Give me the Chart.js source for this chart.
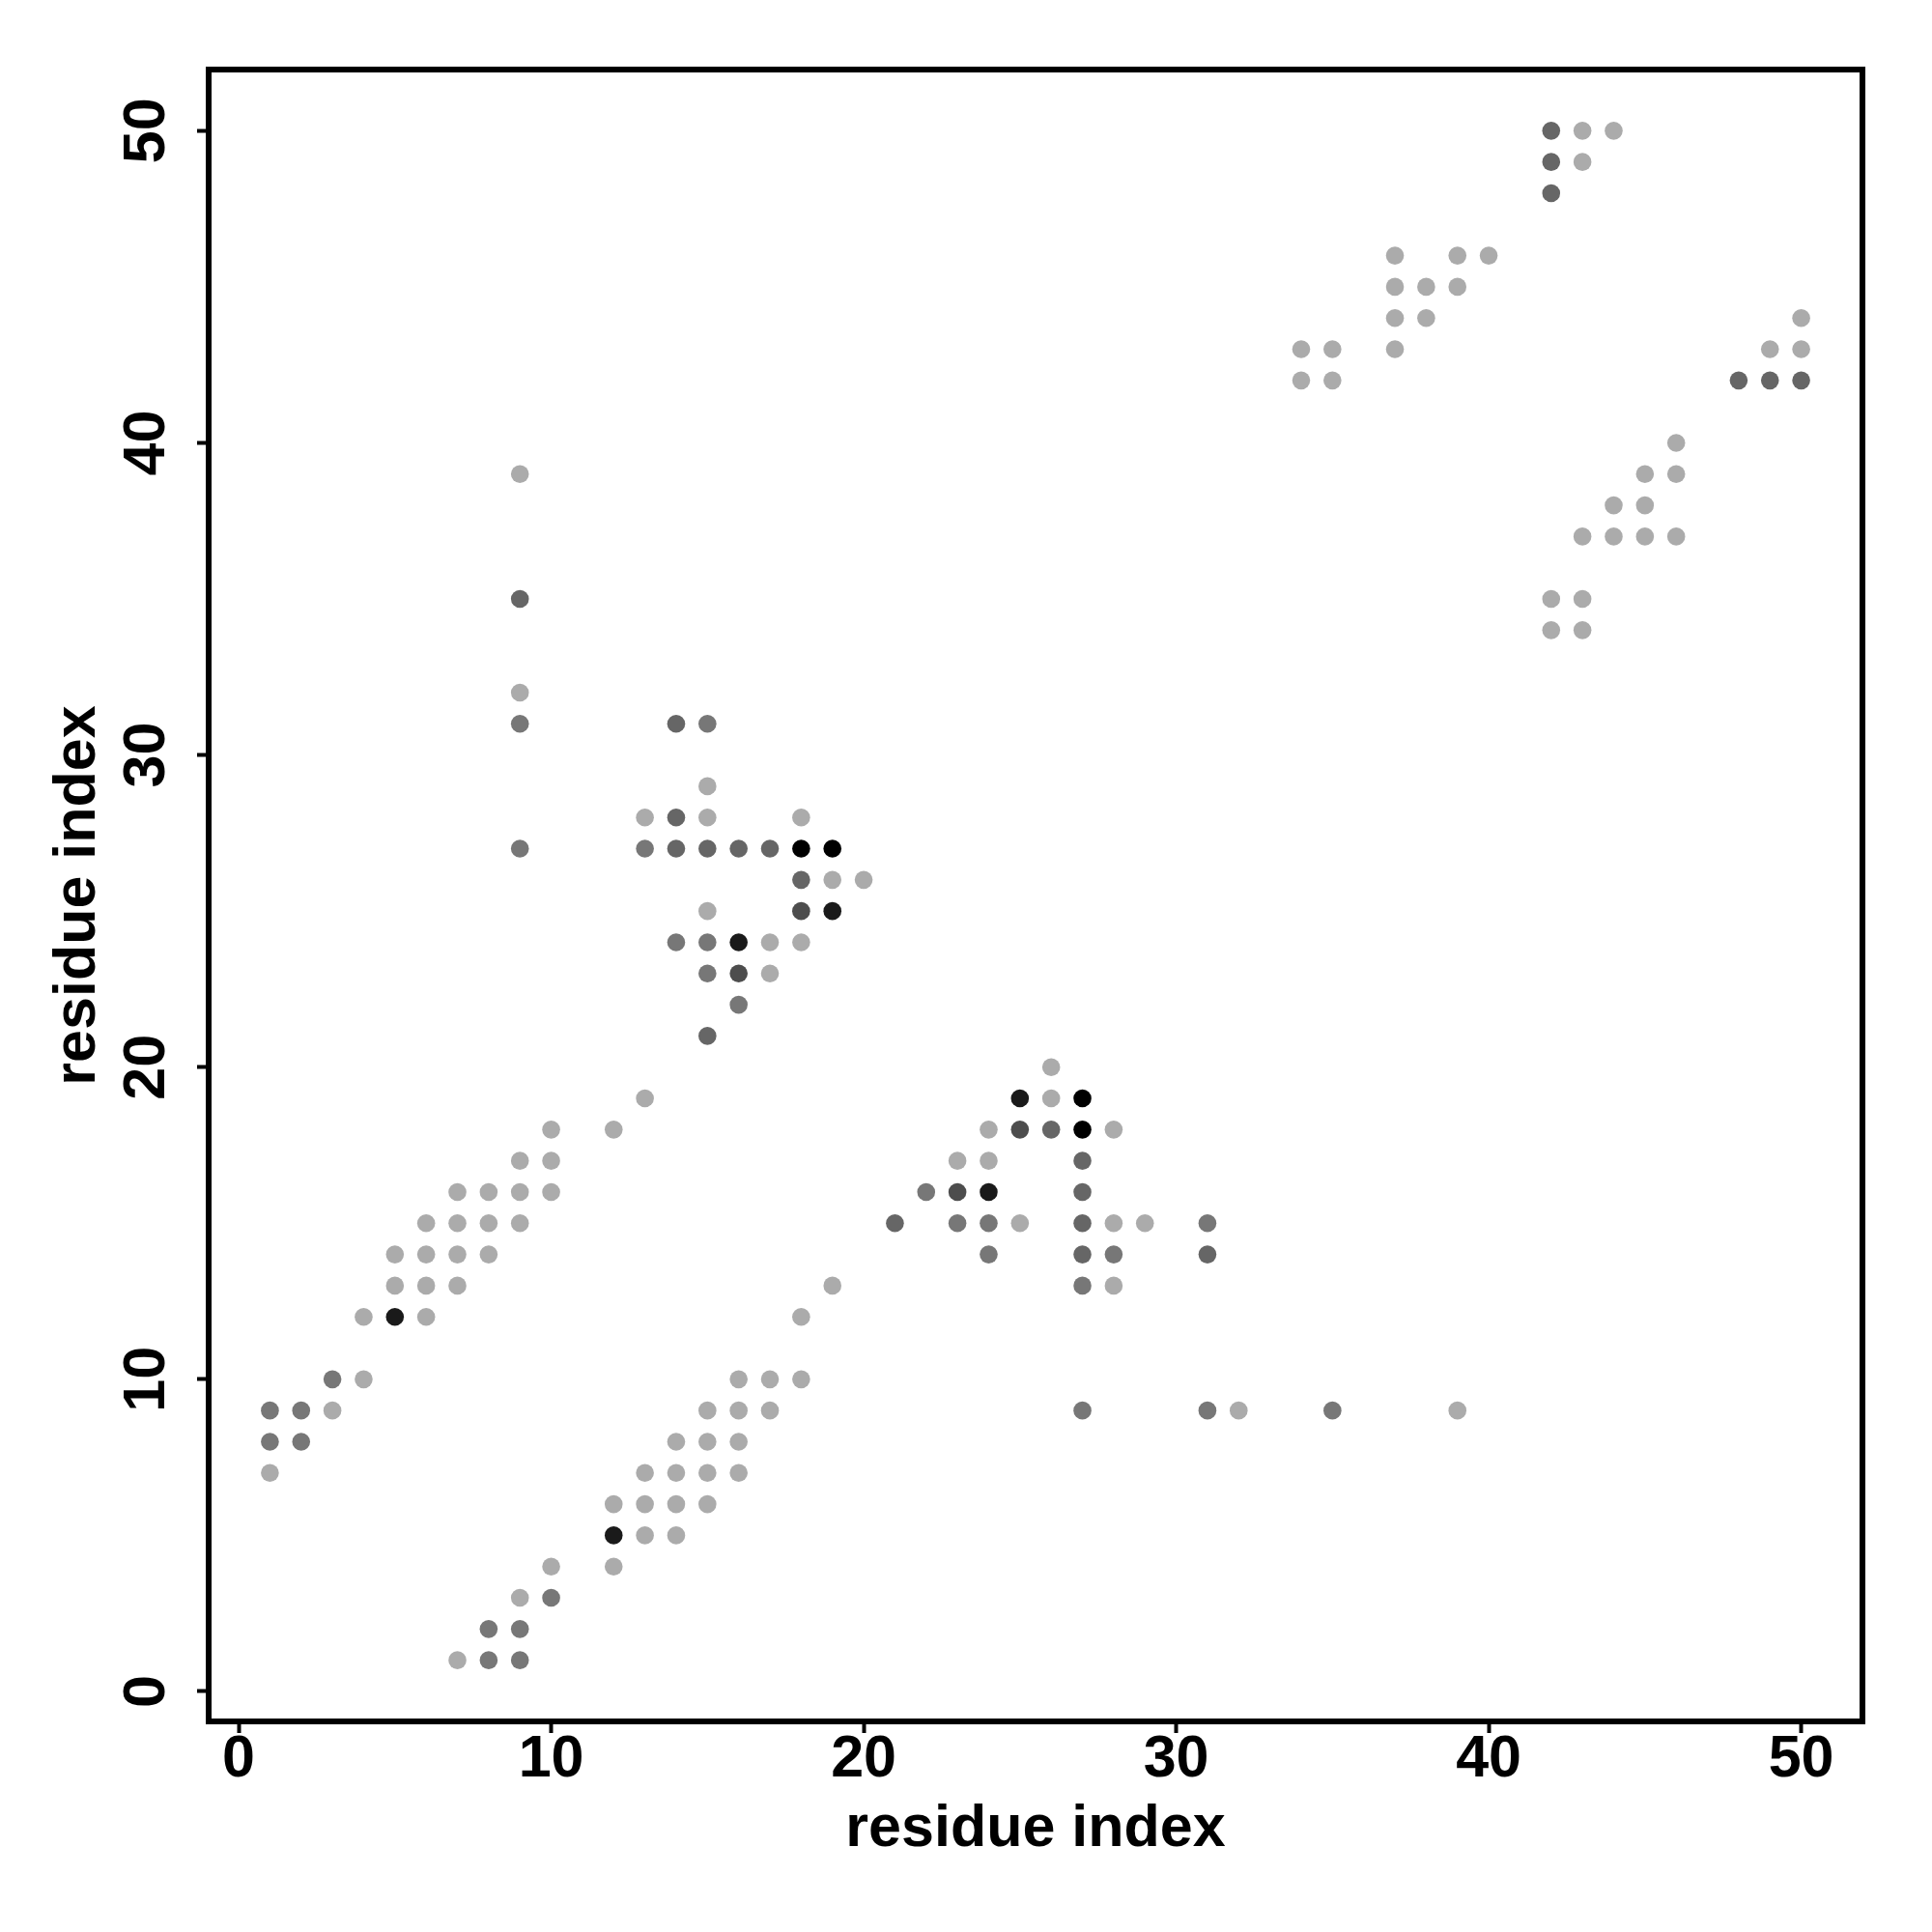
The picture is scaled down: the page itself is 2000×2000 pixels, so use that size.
<!DOCTYPE html>
<html>
<head>
<meta charset="utf-8">
<script src="https://cdn.jsdelivr.net/npm/chart.js@4.4.0/dist/chart.umd.min.js"></script>
<style>
  body { margin: 0; background: #fff; }
</style>
</head>
<body>
<canvas id="contactMap" width="2000" height="2000"></canvas>
<script>
// contact map: residue pairs (x, y) and contact level (1 = weak .. 6 = strongest)
const resX = [
  1, 1, 1, 2, 2, 3, 3, 4, 4, 5, 5, 5, 6, 6, 6, 6, 7, 7, 7, 7, 8, 8, 8, 9, 9, 9, 10, 10, 10, 12, 13,
  9, 9, 9, 9, 9,
  13, 13, 14, 14, 14, 14, 15, 15, 15, 15, 15, 15, 15, 15, 16, 16, 16, 16, 17, 17, 17, 18, 18, 18, 18, 18, 19, 19, 19, 20,
  7, 8, 8, 9, 9, 9, 10, 10, 12, 12, 12, 13, 13, 13, 14, 14, 14, 14, 15, 15, 15, 15, 16, 16, 16, 16, 17, 17, 18, 18, 19,
  21, 22, 23, 23, 23, 24, 24, 24, 24, 24, 25, 25, 25, 26, 26, 26, 27, 27, 27, 27, 27, 27, 27, 27, 28, 28, 28, 28, 29, 31, 31, 31, 32, 35, 39,
  34, 34, 35, 35, 37, 37, 37, 37, 38, 38, 39, 39, 40, 42, 42, 42, 43, 43, 44,
  42, 42, 43, 43, 43, 44, 44, 45, 45, 45, 46, 46, 46, 48, 49, 49, 50, 50, 50
];
const resY = [
  7, 8, 9, 8, 9, 9, 10, 10, 12, 12, 13, 14, 12, 13, 14, 15, 13, 14, 15, 16, 14, 15, 16, 15, 16, 17, 16, 17, 18, 18, 19,
  27, 31, 32, 35, 39,
  27, 28, 24, 27, 28, 31, 21, 23, 24, 25, 27, 28, 29, 31, 22, 23, 24, 27, 23, 24, 27, 24, 25, 26, 27, 28, 25, 26, 27, 26,
  1, 1, 2, 1, 2, 3, 3, 4, 4, 5, 6, 5, 6, 7, 5, 6, 7, 8, 6, 7, 8, 9, 7, 8, 9, 10, 9, 10, 10, 12, 13,
  15, 16, 15, 16, 17, 14, 15, 16, 17, 18, 15, 18, 19, 18, 19, 20, 9, 13, 14, 15, 16, 17, 18, 19, 13, 14, 15, 18, 15, 9, 14, 15, 9, 9, 9,
  42, 43, 42, 43, 43, 44, 45, 46, 44, 45, 45, 46, 46, 48, 49, 50, 49, 50, 50,
  34, 35, 34, 35, 37, 37, 38, 37, 38, 39, 37, 39, 40, 42, 42, 43, 42, 43, 44
];
const contactLevel = [
  1, 2, 2, 2, 2, 1, 2, 1, 1, 5, 1, 1, 1, 1, 1, 1, 1, 1, 1, 1, 1, 1, 1, 1, 1, 1, 1, 1, 1, 1, 1,
  2, 2, 1, 3, 1,
  2, 1, 2, 3, 3, 3, 3, 2, 2, 1, 3, 1, 1, 2, 2, 4, 5, 3, 1, 1, 3, 1, 4, 3, 6, 1, 5, 1, 6, 1,
  1, 2, 2, 2, 2, 1, 2, 1, 1, 5, 1, 1, 1, 1, 1, 1, 1, 1, 1, 1, 1, 1, 1, 1, 1, 1, 1, 1, 1, 1, 1,
  3, 2, 2, 4, 1, 2, 2, 5, 1, 1, 1, 4, 5, 3, 1, 1, 2, 2, 3, 3, 3, 3, 6, 6, 1, 2, 1, 1, 1, 2, 3, 2, 1, 2, 1,
  1, 1, 1, 1, 1, 1, 1, 1, 1, 1, 1, 1, 1, 3, 3, 3, 1, 1, 1,
  1, 1, 1, 1, 1, 1, 1, 1, 1, 1, 1, 1, 1, 3, 3, 1, 3, 1, 1
];
const tickValues = [0, 10, 20, 30, 40, 50];
const axisLabel = 'residue index';

const levelColors = { 1: '#ababab', 2: '#777777', 3: '#666666', 4: '#4d4d4d', 5: '#1a1a1a', 6: '#000000' };
const fontFamily = '"Liberation Sans", Arial, Helvetica, sans-serif';

const points = resX.map((x, i) => ({ x: x, y: resY[i] }));

// box round the plot + tick labels (y labels vertical, R style)
const framePlugin = {
  id: 'frame',
  afterDraw(chart) {
    const ctx = chart.ctx;
    const a = chart.chartArea;
    ctx.save();
    ctx.strokeStyle = '#000';
    ctx.lineWidth = 6;
    ctx.strokeRect(a.left, a.top, a.right - a.left, a.bottom - a.top);
    ctx.fillStyle = '#000';
    ctx.font = 'bold 61px ' + fontFamily;
    ctx.textAlign = 'center';
    ctx.textBaseline = 'alphabetic';
    const xs = chart.scales.x;
    const ys = chart.scales.y;
    tickValues.forEach(v => {
      ctx.fillText(String(v), xs.getPixelForValue(v), 1839);
      ctx.save();
      ctx.translate(170, ys.getPixelForValue(v));
      ctx.rotate(-Math.PI / 2);
      ctx.fillText(String(v), 0, 0);
      ctx.restore();
    });
    ctx.restore();
  }
};

new Chart(document.getElementById('contactMap').getContext('2d'), {
  type: 'scatter',
  data: {
    datasets: [{
      data: points,
      backgroundColor: contactLevel.map(l => levelColors[l]),
      borderWidth: 0,
      pointRadius: 9.3,
      pointHoverRadius: 9.3
    }]
  },
  options: {
    responsive: false,
    animation: false,
    events: [],
    layout: { padding: { left: 0, right: 72, top: 72, bottom: 0 } },
    plugins: { legend: { display: false }, tooltip: { enabled: false } },
    scales: {
      x: {
        type: 'linear',
        min: -0.96,
        max: 51.96,
        afterBuildTicks: s => { s.ticks = tickValues.map(v => ({ value: v })); },
        afterFit: s => { s.height = 218; },
        grid: { drawOnChartArea: false, drawTicks: true, tickLength: 12, tickWidth: 4, tickColor: '#000' },
        border: { display: false },
        ticks: { display: false },
        title: {
          display: true,
          text: axisLabel,
          color: '#000',
          padding: { top: 0, bottom: 69 },
          font: { family: fontFamily, size: 61, weight: 'bold' }
        }
      },
      y: {
        type: 'linear',
        min: -0.96,
        max: 51.96,
        afterBuildTicks: s => { s.ticks = tickValues.map(v => ({ value: v })); },
        afterFit: s => { s.width = 216; },
        grid: { drawOnChartArea: false, drawTicks: true, tickLength: 12, tickWidth: 4, tickColor: '#000' },
        border: { display: false },
        ticks: { display: false },
        title: {
          display: true,
          text: axisLabel,
          color: '#000',
          padding: { top: 45, bottom: 0 },
          font: { family: fontFamily, size: 61, weight: 'bold' }
        }
      }
    }
  },
  plugins: [framePlugin]
});
</script>
</body>
</html>
